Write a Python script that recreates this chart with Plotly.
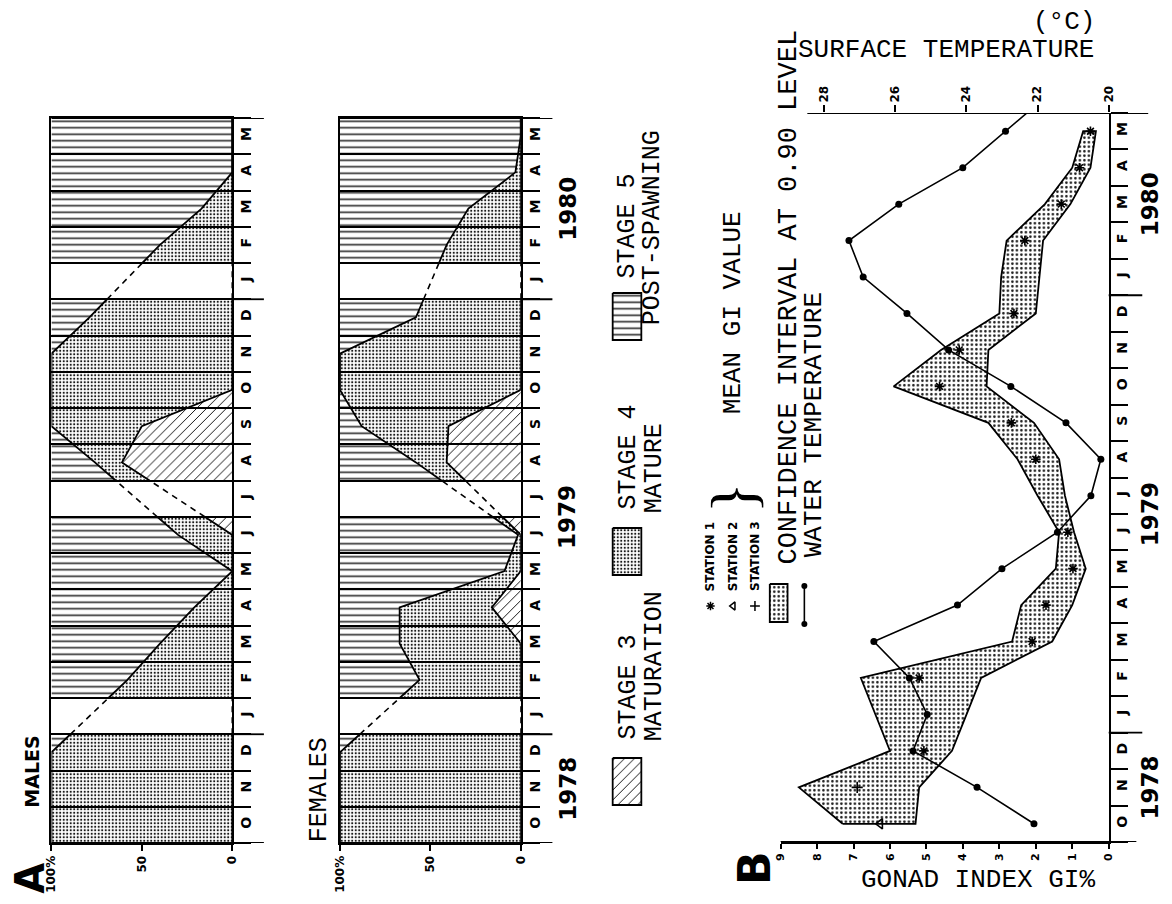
import numpy as np
import plotly.graph_objects as go

# ---------------- data ----------------
nan = float("nan")
months = ["O", "N", "D", "J", "F", "M", "A", "M", "J", "J",
          "A", "S", "O", "N", "D", "J", "F", "M", "A", "M"]
years = ["1978", "1979", "1980"]
year_of_month = [0, 0, 0, 1, 1, 1, 1, 1, 1, 1, 1, 1, 1, 1, 1, 2, 2, 2, 2, 2]

# cumulative percentages (stage 3, stage 3+4); remainder = stage 5
males_stage3 = [0, 0, 0, nan, 0, 0, 0, 0, 0, nan, 61, 50, 0, 0, 0, nan, 0, 0, 0, 0]
males_stage34 = [100, 100, 100, nan, 58, 40, 21, 0, 30, nan, 76, 100, 100, 100, 79, nan, 40, 17, 0, 0]
females_stage3 = [0, 0, 0, nan, 0, 0, 16, 0, 0, nan, 41, 40, 0, 0, 0, nan, 0, 0, 0, 0]
females_stage34 = [100, 100, 100, nan, 56, 67, 67, 9, 1.5, nan, 58, 88, 100, 100, 58, nan, 41, 29, 3, 0]

# panel B
gi_ci_upper = [7.3, 8.5, 6.0, 6.4, 6.8, 2.65, 2.4, 1.45, 1.36, 1.95, 2.5, 3.3, 5.9, 4.6, 3.0, 2.95, 2.8, 1.75, 1.0, 0.7]
gi_ci_lower = [5.3, 5.2, 4.3, 3.9, 3.5, 1.55, 1.0, 0.63, 0.95, 1.2, 1.36, 2.05, 3.35, 3.3, 2.0, 1.9, 1.8, 1.05, 0.5, 0.35]
gi_station1 = [nan, nan, 5.07, nan, 5.2, 2.1, 1.72, 0.98, 1.12, nan, 2.0, 2.67, 4.64, 4.1, 2.6, nan, 2.3, 1.3, 0.8, 0.5]
gi_station2 = [6.27] + [nan] * 19
gi_station3 = [nan, 6.9] + [nan] * 18
water_temp = [22.1, 23.7, 25.5, 25.1, 25.6, 26.6, 24.25, 23.0, 21.44, 20.5, 20.22, 21.2,
              22.75, 24.5, 25.67, 26.9, 27.3, 25.9, 24.1, 22.9, 21.7]  # last = Jun 1980 (runs off top)
temp_ticks = [20, 22, 24, 26, 28]
gi_ticks = list(range(10))

# ---------------- geometry ----------------
W, H = 1172, 904
def px(x): return x / W
def py(y): return 1 - y / H

n = len(months)
t_idx = list(range(n))
BOLD = dict(family="DejaVu Sans", weight="bold", color="black")
MONO = dict(family="Liberation Mono", color="black")

fig = go.Figure()

# ---------------- panel A helpers ----------------
def edge_val(v, i, d):
    j = i + d
    while 0 <= j < n and np.isnan(v[j]):
        j += d
    if j < 0 or j >= n:
        return v[i]
    return v[i] + (v[j] - v[i]) * 0.5 / abs(j - i)

def runs(v):
    out, start = [], None
    for i in range(n):
        if not np.isnan(v[i]) and start is None:
            start = i
        if (np.isnan(v[i]) or i == n - 1) and start is not None:
            end = i - 1 if np.isnan(v[i]) else i
            out.append((start, end))
            start = None
    return out

def path(v, a, b):
    ts = [a - 0.5] + list(range(a, b + 1)) + [b + 0.5]
    vs = [edge_val(v, a, -1)] + [v[k] for k in range(a, b + 1)] + [edge_val(v, b, 1)]
    return ts, vs

STAGE3_PAT = dict(shape="/", fgcolor="black", bgcolor="rgba(0,0,0,0)", size=7, solidity=0.13, fgopacity=1)
STAGE4_PAT = dict(shape=".", fgcolor="black", bgcolor="rgba(0,0,0,0)", size=3.5, solidity=0.3, fgopacity=0.9)
STAGE5_PAT = dict(shape="-", fgcolor="black", bgcolor="rgba(0,0,0,0)", size=6.5, solidity=0.26, fgopacity=0.8)
CI_PAT = dict(shape=".", fgcolor="black", bgcolor="rgba(0,0,0,0)", size=4.5, solidity=0.25, fgopacity=0.9)

def add_panel(s3, s34, xa, ya):
    full = [100.0] * n
    zero = [0.0] * n
    for a, b in runs(s34):
        for lo, hi, pat in ((zero, s3, STAGE3_PAT), (s3, s34, STAGE4_PAT), (s34, full, STAGE5_PAT)):
            tl, vl = path(lo, a, b)
            th, vh = path(hi, a, b)
            fig.add_trace(go.Scatter(
                x=vl + vh[::-1] + [vl[0]], y=tl + th[::-1] + [tl[0]],
                mode="lines", fill="toself", fillcolor="rgba(0,0,0,0)", fillpattern=pat,
                line=dict(width=0, color="rgba(0,0,0,0)"), xaxis=xa, yaxis=ya,
                hoverinfo="skip", showlegend=False))
        for v in (s3, s34):
            tt, vv = path(v, a, b)
            fig.add_trace(go.Scatter(x=vv, y=tt, mode="lines", line=dict(color="black", width=1.8),
                                     xaxis=xa, yaxis=ya, hoverinfo="skip", showlegend=False))
    rr = runs(s34)
    for (a1, b1), (a2, b2) in zip(rr[:-1], rr[1:]):
        for v in (s3, s34):
            fig.add_trace(go.Scatter(x=[edge_val(v, b1, 1), edge_val(v, a2, -1)], y=[b1 + 0.5, a2 - 0.5],
                                     mode="lines", line=dict(color="black", width=1.6, dash="6px,5px"),
                                     xaxis=xa, yaxis=ya, hoverinfo="skip", showlegend=False))

add_panel(males_stage3, males_stage34, "x", "y")
add_panel(females_stage3, females_stage34, "x2", "y2")

# ---------------- panel B ----------------
fig.add_trace(go.Scatter(x=gi_ci_upper + gi_ci_lower[::-1] + [gi_ci_upper[0]],
                         y=t_idx + t_idx[::-1] + [t_idx[0]],
                         mode="lines", fill="toself", fillcolor="rgba(0,0,0,0)", fillpattern=CI_PAT,
                         line=dict(color="black", width=1.8), xaxis="x3", yaxis="y3",
                         hoverinfo="skip", showlegend=False))
fig.add_trace(go.Scatter(x=water_temp, y=list(range(len(water_temp))), mode="lines+markers",
                         line=dict(color="black", width=1.6), marker=dict(size=7, color="black"),
                         xaxis="x4", yaxis="y3", hoverinfo="skip", showlegend=False))
for vals, sym, sz in ((gi_station1, "asterisk-open", 8), (gi_station2, "triangle-left-open", 9),
                      (gi_station3, "cross-thin-open", 8)):
    fig.add_trace(go.Scatter(x=vals, y=t_idx, mode="markers",
                             marker=dict(symbol=sym, size=sz, color="black", line=dict(color="black", width=1.6)),
                             xaxis="x3", yaxis="y3", hoverinfo="skip", showlegend=False))

# ---------------- legends (positioned in page pixels on an overlay axis) ----------------
def box(x0, x1, y0, y1, pat, lw=1.8):
    fig.add_trace(go.Scatter(x=[x0, x1, x1, x0, x0], y=[y0, y0, y1, y1, y0], mode="lines",
                             fill="toself", fillcolor="rgba(0,0,0,0)", fillpattern=pat,
                             line=dict(color="black", width=lw), xaxis="x5", yaxis="y5",
                             hoverinfo="skip", showlegend=False))

box(613, 642, 758, 805, STAGE3_PAT)
box(613, 642, 528, 575, STAGE4_PAT)
box(613, 642, 293, 340, STAGE5_PAT)
box(772, 790, 584, 622, CI_PAT)
for xx, sym in ((712, "asterisk-open"), (735, "triangle-left-open"), (757, "cross-thin-open")):
    fig.add_trace(go.Scatter(x=[xx], y=[606], mode="markers",
                             marker=dict(symbol=sym, size=7, color="black", line=dict(color="black", width=1.5)),
                             xaxis="x5", yaxis="y5", hoverinfo="skip", showlegend=False))
fig.add_trace(go.Scatter(x=[807, 807], y=[586, 624], mode="lines+markers",
                         line=dict(color="black", width=1.6), marker=dict(size=6, color="black"),
                         xaxis="x5", yaxis="y5", hoverinfo="skip", showlegend=False))

# ---------------- axes ----------------
month_axis = dict(range=[-0.5, n - 0.5], tickmode="array", tickvals=t_idx, ticktext=months,
                  tickangle=-90, ticks="", side="right", showline=True, linecolor="black", linewidth=2,
                  tickfont=dict(size=14, **BOLD), showgrid=False, zeroline=False, fixedrange=True,
                  minor=dict(tickmode="array", tickvals=[i - 0.5 for i in range(n + 1)], ticks="outside",
                             ticklen=17, tickwidth=1.5, tickcolor="black"))
pct_axis = dict(range=[100, 0], tickmode="array", tickvals=[0, 50, 100], ticktext=["0", "50", "100%"],
                tickangle=-90, ticks="outside", ticklen=6, tickwidth=1.5, tickcolor="black",
                showline=True, linecolor="black", linewidth=2, mirror=True, showgrid=False,
                zeroline=False, tickfont=dict(size=12, **BOLD), fixedrange=True)

ydom = [py(843), py(118)]
fig.update_layout(
    width=W, height=H, margin=dict(l=0, r=0, t=0, b=0),
    paper_bgcolor="white", plot_bgcolor="rgba(0,0,0,0)", showlegend=False,
    xaxis=dict(domain=[px(45), px(228)], anchor="y", **pct_axis),
    yaxis=dict(domain=ydom, anchor="x", mirror=True, **month_axis),
    xaxis2=dict(domain=[px(337), px(520)], anchor="y2", **pct_axis),
    yaxis2=dict(domain=ydom, anchor="x2", mirror=True, **month_axis),
    xaxis3=dict(domain=[px(783), px(1115)], anchor="y3", range=[9, 0], tickmode="array",
                tickvals=gi_ticks, tickangle=-90, ticks="outside", ticklen=5, tickwidth=1.5,
                tickcolor="black", showline=True, linecolor="black", linewidth=2, showgrid=False,
                zeroline=False, tickfont=dict(size=11, **BOLD), fixedrange=True),
    yaxis3=dict(domain=[py(842), py(113)], anchor="x3", **month_axis),
    xaxis4=dict(overlaying="x3", anchor="y3", side="top", range=[29.22, 20], tickmode="array",
                tickvals=temp_ticks, tickangle=-90, ticks="outside", ticklen=7, tickwidth=1.5,
                tickcolor="black", showline=False, showgrid=False, zeroline=False,
                tickfont=dict(size=12, **BOLD), fixedrange=True),
    xaxis5=dict(domain=[0, 1], anchor="y5", range=[0, W], visible=False, fixedrange=True),
    yaxis5=dict(domain=[0, 1], anchor="x5", range=[H, 0], visible=False, fixedrange=True),
)
# lines between month bands for panel A
for ax in ("yaxis", "yaxis2"):
    fig.layout[ax].minor.showgrid = True
    fig.layout[ax].minor.gridcolor = "black"
    fig.layout[ax].minor.gridwidth = 1.5

# ---------------- axis extensions (year separators etc.) ----------------
year_breaks = [i - 0.5 for i in range(1, n) if year_of_month[i] != year_of_month[i - 1]]
def hline(xref, yref, x0, x1, y, w=2):
    fig.add_shape(type="line", xref=xref, yref=yref, x0=x0, x1=x1, y0=y, y1=y,
                  line=dict(color="black", width=w))

for xa, ya, wpx in (("x", "y", 183), ("x2", "y2", 183)):
    ext = 1 + 32 / wpx
    hline(xa + " domain", ya, 0, ext, n - 0.5)
    hline(xa + " domain", ya, 0, ext, -0.5)
    for yb in year_breaks:
        hline(xa + " domain", ya, 1, ext, yb, 1.8)
bw = 332
hline("x3 domain", "y3", 0, 1 + 28 / bw, -0.5)
hline("x3 domain", "y3", (810 - 783) / bw, 1 + 40 / bw, n - 0.5)
for yb in year_breaks:
    hline("x3 domain", "y3", 1, 1 + 34 / bw, yb, 1.8)

# ---------------- text ----------------
def txt(x, y, s, font, angle=-90, **kw):
    fig.add_annotation(x=x, y=y, xref="x5", yref="y5", text=s, showarrow=False, textangle=angle,
                       xanchor="center", yanchor="middle", font=font, **kw)

year_centers = [float(np.mean([i for i in range(n) if year_of_month[i] == k])) for k in range(len(years))]
for k, yr in enumerate(years):
    fig.add_annotation(x=1 + 47 / 183, y=year_centers[k], xref="x2 domain", yref="y2", text=yr,
                       showarrow=False, textangle=-90, xanchor="center", yanchor="middle",
                       font=dict(size=23, **BOLD))
    fig.add_annotation(x=1 + 42 / bw, y=year_centers[k], xref="x3 domain", yref="y3", text=yr,
                       showarrow=False, textangle=-90, xanchor="center", yanchor="middle",
                       font=dict(size=23, **BOLD))

txt(23, 878, "A", dict(size=40, **BOLD))
txt(25, 772, "MALES", dict(size=19, **BOLD))
txt(316, 790, "FEMALES", dict(size=25, **MONO))
txt(629, 687, "STAGE 3", dict(size=25, **MONO))
txt(655, 666, "MATURATION", dict(size=25, **MONO))
txt(629, 457, "STAGE 4", dict(size=25, **MONO))
txt(655, 468, "MATURE", dict(size=25, **MONO))
txt(627, 226, "STAGE 5", dict(size=25, **MONO))
txt(653, 228, "POST-SPAWNING", dict(size=25, **MONO))

txt(756, 868, "B", dict(size=44, **BOLD))
txt(712, 556, "STATION 1", dict(size=12, **BOLD))
txt(735, 556, "STATION 2", dict(size=12, **BOLD))
txt(757, 556, "STATION 3", dict(size=12, **BOLD))
txt(735, 498, "}", dict(size=64, family="Liberation Serif", color="black"))
txt(735, 313, "MEAN GI VALUE", dict(size=26, **MONO))
txt(791, 297, "CONFIDENCE INTERVAL AT 0.90 LEVEL", dict(size=27, **MONO))
txt(817, 425, "WATER TEMPERATURE", dict(size=26, **MONO))
txt(983, 880, "GONAD INDEX GI%", dict(size=26, **MONO), angle=0)
txt(950, 50, "SURFACE TEMPERATURE", dict(size=26, **MONO), angle=0)
txt(1070, 22, "(°C)", dict(size=26, **MONO), angle=0)

fig.write_html("out.html", config={"displayModeBar": False},
               post_script="document.body.style.margin='0px';document.body.style.overflow='hidden';")
